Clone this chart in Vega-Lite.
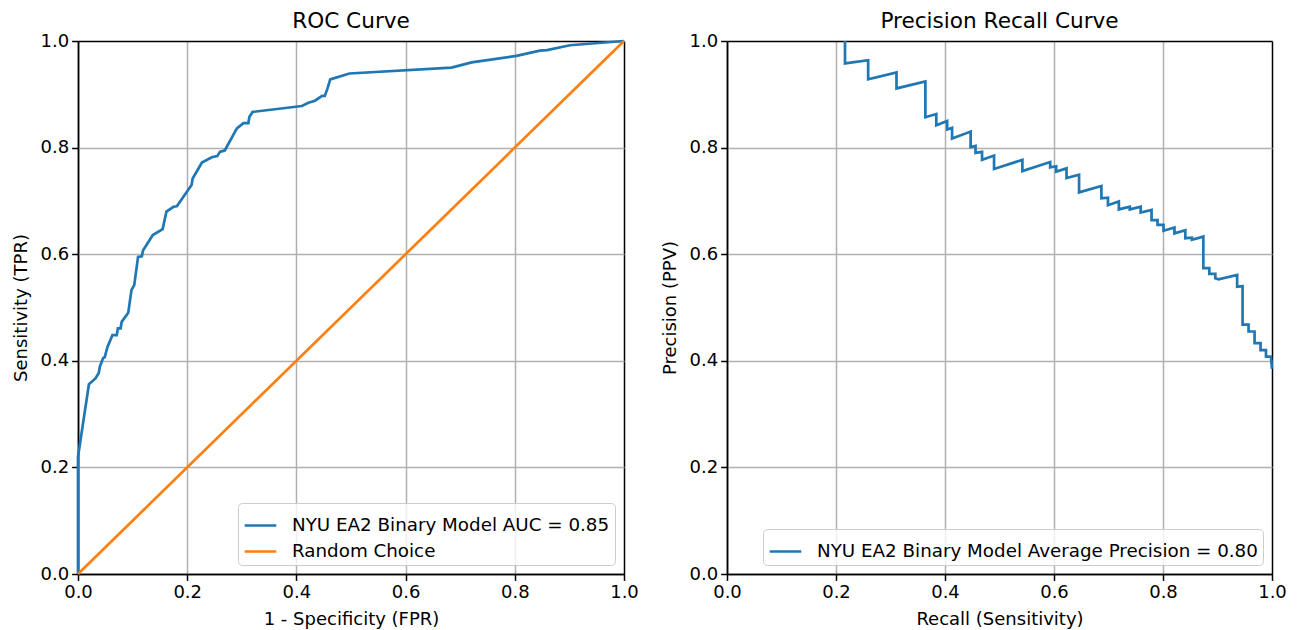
{
  "$schema": "https://vega.github.io/schema/vega-lite/v6.json",
  "padding": {"left": 12, "top": 11, "right": 5, "bottom": 0},
  "background": "white",
  "config": {
    "font": "DejaVu Sans",
    "view": {"stroke": null},
    "axis": {
      "labelFontSize": 18, "titleFontSize": 18, "titleFontWeight": "normal",
      "labelColor": "black", "titleColor": "black", "tickColor": "black",
      "tickSize": 6.4, "tickWidth": 1.5, "labelPadding": 3, "titlePadding": 9,
      "domainColor": "black", "domainWidth": 1.5, "labelFlush": false
    },
    "title": {"fontSize": 21.6, "fontWeight": "normal", "color": "black", "offset": -1, "anchor": "middle", "frame": "group"},
    "legend": {
      "title": null, "orient": "bottom-right", "offset": 9,
      "fillColor": "rgba(255,255,255,0.8)", "strokeColor": "#cccccc", "cornerRadius": 4,
      "padding": 5, "labelFontSize": 18.3, "labelColor": "black", "symbolType": "stroke",
      "symbolStrokeWidth": 2.7, "symbolSize": 1000, "labelOffset": 14, "rowPadding": 0, "labelLimit": 0
    }
  },
  "datasets": {
    "roc": [
      {"i": 0, "fpr": 0, "tpr": 0, "series": "NYU EA2 Binary Model AUC = 0.85"},
      {"i": 1, "fpr": 0, "tpr": 0.22, "series": "NYU EA2 Binary Model AUC = 0.85"},
      {"i": 2, "fpr": 0.02, "tpr": 0.356, "series": "NYU EA2 Binary Model AUC = 0.85"},
      {"i": 3, "fpr": 0.032, "tpr": 0.367, "series": "NYU EA2 Binary Model AUC = 0.85"},
      {"i": 4, "fpr": 0.038, "tpr": 0.377, "series": "NYU EA2 Binary Model AUC = 0.85"},
      {"i": 5, "fpr": 0.04, "tpr": 0.389, "series": "NYU EA2 Binary Model AUC = 0.85"},
      {"i": 6, "fpr": 0.046, "tpr": 0.405, "series": "NYU EA2 Binary Model AUC = 0.85"},
      {"i": 7, "fpr": 0.049, "tpr": 0.407, "series": "NYU EA2 Binary Model AUC = 0.85"},
      {"i": 8, "fpr": 0.054, "tpr": 0.426, "series": "NYU EA2 Binary Model AUC = 0.85"},
      {"i": 9, "fpr": 0.063, "tpr": 0.448, "series": "NYU EA2 Binary Model AUC = 0.85"},
      {"i": 10, "fpr": 0.071, "tpr": 0.448, "series": "NYU EA2 Binary Model AUC = 0.85"},
      {"i": 11, "fpr": 0.073, "tpr": 0.461, "series": "NYU EA2 Binary Model AUC = 0.85"},
      {"i": 12, "fpr": 0.078, "tpr": 0.461, "series": "NYU EA2 Binary Model AUC = 0.85"},
      {"i": 13, "fpr": 0.08, "tpr": 0.473, "series": "NYU EA2 Binary Model AUC = 0.85"},
      {"i": 14, "fpr": 0.092, "tpr": 0.49, "series": "NYU EA2 Binary Model AUC = 0.85"},
      {"i": 15, "fpr": 0.098, "tpr": 0.533, "series": "NYU EA2 Binary Model AUC = 0.85"},
      {"i": 16, "fpr": 0.103, "tpr": 0.542, "series": "NYU EA2 Binary Model AUC = 0.85"},
      {"i": 17, "fpr": 0.11, "tpr": 0.595, "series": "NYU EA2 Binary Model AUC = 0.85"},
      {"i": 18, "fpr": 0.117, "tpr": 0.596, "series": "NYU EA2 Binary Model AUC = 0.85"},
      {"i": 19, "fpr": 0.119, "tpr": 0.607, "series": "NYU EA2 Binary Model AUC = 0.85"},
      {"i": 20, "fpr": 0.137, "tpr": 0.636, "series": "NYU EA2 Binary Model AUC = 0.85"},
      {"i": 21, "fpr": 0.155, "tpr": 0.647, "series": "NYU EA2 Binary Model AUC = 0.85"},
      {"i": 22, "fpr": 0.162, "tpr": 0.68, "series": "NYU EA2 Binary Model AUC = 0.85"},
      {"i": 23, "fpr": 0.175, "tpr": 0.689, "series": "NYU EA2 Binary Model AUC = 0.85"},
      {"i": 24, "fpr": 0.181, "tpr": 0.69, "series": "NYU EA2 Binary Model AUC = 0.85"},
      {"i": 25, "fpr": 0.208, "tpr": 0.73, "series": "NYU EA2 Binary Model AUC = 0.85"},
      {"i": 26, "fpr": 0.21, "tpr": 0.742, "series": "NYU EA2 Binary Model AUC = 0.85"},
      {"i": 27, "fpr": 0.227, "tpr": 0.772, "series": "NYU EA2 Binary Model AUC = 0.85"},
      {"i": 28, "fpr": 0.245, "tpr": 0.782, "series": "NYU EA2 Binary Model AUC = 0.85"},
      {"i": 29, "fpr": 0.255, "tpr": 0.784, "series": "NYU EA2 Binary Model AUC = 0.85"},
      {"i": 30, "fpr": 0.26, "tpr": 0.792, "series": "NYU EA2 Binary Model AUC = 0.85"},
      {"i": 31, "fpr": 0.269, "tpr": 0.795, "series": "NYU EA2 Binary Model AUC = 0.85"},
      {"i": 32, "fpr": 0.291, "tpr": 0.836, "series": "NYU EA2 Binary Model AUC = 0.85"},
      {"i": 33, "fpr": 0.303, "tpr": 0.846, "series": "NYU EA2 Binary Model AUC = 0.85"},
      {"i": 34, "fpr": 0.312, "tpr": 0.846, "series": "NYU EA2 Binary Model AUC = 0.85"},
      {"i": 35, "fpr": 0.314, "tpr": 0.858, "series": "NYU EA2 Binary Model AUC = 0.85"},
      {"i": 36, "fpr": 0.32, "tpr": 0.867, "series": "NYU EA2 Binary Model AUC = 0.85"},
      {"i": 37, "fpr": 0.41, "tpr": 0.878, "series": "NYU EA2 Binary Model AUC = 0.85"},
      {"i": 38, "fpr": 0.422, "tpr": 0.884, "series": "NYU EA2 Binary Model AUC = 0.85"},
      {"i": 39, "fpr": 0.434, "tpr": 0.888, "series": "NYU EA2 Binary Model AUC = 0.85"},
      {"i": 40, "fpr": 0.447, "tpr": 0.897, "series": "NYU EA2 Binary Model AUC = 0.85"},
      {"i": 41, "fpr": 0.452, "tpr": 0.897, "series": "NYU EA2 Binary Model AUC = 0.85"},
      {"i": 42, "fpr": 0.457, "tpr": 0.911, "series": "NYU EA2 Binary Model AUC = 0.85"},
      {"i": 43, "fpr": 0.462, "tpr": 0.928, "series": "NYU EA2 Binary Model AUC = 0.85"},
      {"i": 44, "fpr": 0.497, "tpr": 0.939, "series": "NYU EA2 Binary Model AUC = 0.85"},
      {"i": 45, "fpr": 0.684, "tpr": 0.95, "series": "NYU EA2 Binary Model AUC = 0.85"},
      {"i": 46, "fpr": 0.721, "tpr": 0.96, "series": "NYU EA2 Binary Model AUC = 0.85"},
      {"i": 47, "fpr": 0.803, "tpr": 0.972, "series": "NYU EA2 Binary Model AUC = 0.85"},
      {"i": 48, "fpr": 0.846, "tpr": 0.982, "series": "NYU EA2 Binary Model AUC = 0.85"},
      {"i": 49, "fpr": 0.859, "tpr": 0.983, "series": "NYU EA2 Binary Model AUC = 0.85"},
      {"i": 50, "fpr": 0.901, "tpr": 0.992, "series": "NYU EA2 Binary Model AUC = 0.85"},
      {"i": 51, "fpr": 1, "tpr": 1, "series": "NYU EA2 Binary Model AUC = 0.85"},
      {"i": 0, "fpr": 0, "tpr": 0, "series": "Random Choice"},
      {"i": 1, "fpr": 1, "tpr": 1, "series": "Random Choice"}
    ],
    "pr": [
      {"i": 0, "recall": 0.2165, "precision": 1.0},
      {"i": 1, "recall": 0.2165, "precision": 0.958},
      {"i": 2, "recall": 0.259, "precision": 0.964},
      {"i": 3, "recall": 0.259, "precision": 0.928},
      {"i": 4, "recall": 0.311, "precision": 0.941},
      {"i": 5, "recall": 0.311, "precision": 0.911},
      {"i": 6, "recall": 0.364, "precision": 0.924},
      {"i": 7, "recall": 0.364, "precision": 0.857},
      {"i": 8, "recall": 0.384, "precision": 0.863},
      {"i": 9, "recall": 0.384, "precision": 0.842},
      {"i": 10, "recall": 0.404, "precision": 0.85},
      {"i": 11, "recall": 0.404, "precision": 0.834},
      {"i": 12, "recall": 0.413, "precision": 0.837},
      {"i": 13, "recall": 0.413, "precision": 0.817},
      {"i": 14, "recall": 0.447, "precision": 0.83},
      {"i": 15, "recall": 0.447, "precision": 0.801},
      {"i": 16, "recall": 0.456, "precision": 0.803},
      {"i": 17, "recall": 0.456, "precision": 0.79},
      {"i": 18, "recall": 0.468, "precision": 0.792},
      {"i": 19, "recall": 0.468, "precision": 0.777},
      {"i": 20, "recall": 0.49, "precision": 0.785},
      {"i": 21, "recall": 0.49, "precision": 0.76},
      {"i": 22, "recall": 0.542, "precision": 0.777},
      {"i": 23, "recall": 0.542, "precision": 0.756},
      {"i": 24, "recall": 0.593, "precision": 0.773},
      {"i": 25, "recall": 0.593, "precision": 0.763},
      {"i": 26, "recall": 0.604, "precision": 0.765},
      {"i": 27, "recall": 0.604, "precision": 0.755},
      {"i": 28, "recall": 0.623, "precision": 0.761},
      {"i": 29, "recall": 0.623, "precision": 0.743},
      {"i": 30, "recall": 0.646, "precision": 0.749},
      {"i": 31, "recall": 0.646, "precision": 0.716},
      {"i": 32, "recall": 0.687, "precision": 0.728},
      {"i": 33, "recall": 0.687, "precision": 0.705},
      {"i": 34, "recall": 0.699, "precision": 0.706},
      {"i": 35, "recall": 0.699, "precision": 0.692},
      {"i": 36, "recall": 0.719, "precision": 0.699},
      {"i": 37, "recall": 0.719, "precision": 0.684},
      {"i": 38, "recall": 0.739, "precision": 0.689},
      {"i": 39, "recall": 0.739, "precision": 0.684},
      {"i": 40, "recall": 0.759, "precision": 0.689},
      {"i": 41, "recall": 0.759, "precision": 0.678},
      {"i": 42, "recall": 0.779, "precision": 0.683},
      {"i": 43, "recall": 0.779, "precision": 0.664},
      {"i": 44, "recall": 0.79, "precision": 0.664},
      {"i": 45, "recall": 0.79, "precision": 0.655},
      {"i": 46, "recall": 0.801, "precision": 0.655},
      {"i": 47, "recall": 0.801, "precision": 0.644},
      {"i": 48, "recall": 0.821, "precision": 0.65},
      {"i": 49, "recall": 0.821, "precision": 0.639},
      {"i": 50, "recall": 0.841, "precision": 0.645},
      {"i": 51, "recall": 0.841, "precision": 0.63},
      {"i": 52, "recall": 0.853, "precision": 0.631},
      {"i": 53, "recall": 0.853, "precision": 0.627},
      {"i": 54, "recall": 0.874, "precision": 0.633},
      {"i": 55, "recall": 0.874, "precision": 0.574},
      {"i": 56, "recall": 0.885, "precision": 0.574},
      {"i": 57, "recall": 0.885, "precision": 0.563},
      {"i": 58, "recall": 0.896, "precision": 0.563},
      {"i": 59, "recall": 0.896, "precision": 0.555},
      {"i": 60, "recall": 0.902, "precision": 0.553},
      {"i": 61, "recall": 0.936, "precision": 0.561},
      {"i": 62, "recall": 0.936, "precision": 0.539},
      {"i": 63, "recall": 0.946, "precision": 0.54},
      {"i": 64, "recall": 0.946, "precision": 0.468},
      {"i": 65, "recall": 0.957, "precision": 0.468},
      {"i": 66, "recall": 0.957, "precision": 0.455},
      {"i": 67, "recall": 0.968, "precision": 0.455},
      {"i": 68, "recall": 0.968, "precision": 0.433},
      {"i": 69, "recall": 0.979, "precision": 0.433},
      {"i": 70, "recall": 0.979, "precision": 0.42},
      {"i": 71, "recall": 0.989, "precision": 0.42},
      {"i": 72, "recall": 0.989, "precision": 0.408},
      {"i": 73, "recall": 0.998, "precision": 0.408},
      {"i": 74, "recall": 1.0, "precision": 0.385}
    ]
  },
  "hconcat": [
    {
      "title": "ROC Curve",
      "width": 546,
      "height": 533,
      "data": {"name": "roc"},
      "mark": {"type": "line", "strokeWidth": 2.7},
      "encoding": {
        "x": {
          "field": "fpr", "type": "quantitative",
          "scale": {"domain": [0, 1], "nice": false, "zero": false},
          "axis": {
            "title": "1 - Specificity (FPR)", "values": [0, 0.2, 0.4, 0.6, 0.8, 1], "format": ".1f",
            "grid": true, "gridWidth": 1.5,
            "gridColor": {"condition": {"test": "datum.value === 0 || datum.value === 1", "value": "black"}, "value": "#b0b0b0"}
          }
        },
        "y": {
          "field": "tpr", "type": "quantitative",
          "scale": {"domain": [0, 1], "nice": false, "zero": false},
          "axis": {
            "title": "Sensitivity (TPR)", "values": [0, 0.2, 0.4, 0.6, 0.8, 1], "format": ".1f",
            "grid": true, "gridWidth": 1.5,
            "gridColor": {"condition": {"test": "datum.value === 0 || datum.value === 1", "value": "black"}, "value": "#b0b0b0"}
          }
        },
        "color": {
          "field": "series", "type": "nominal",
          "scale": {"domain": ["NYU EA2 Binary Model AUC = 0.85", "Random Choice"], "range": ["#1f77b4", "#ff7f0e"]}
        },
        "order": {"field": "i", "type": "quantitative"}
      }
    },
    {
      "title": "Precision Recall Curve",
      "width": 545,
      "height": 533,
      "data": {"name": "pr"},
      "transform": [{"calculate": "'NYU EA2 Binary Model Average Precision = 0.80'", "as": "series"}],
      "mark": {"type": "line", "strokeWidth": 2.7},
      "encoding": {
        "x": {
          "field": "recall", "type": "quantitative",
          "scale": {"domain": [0, 1], "nice": false, "zero": false},
          "axis": {
            "title": "Recall (Sensitivity)", "values": [0, 0.2, 0.4, 0.6, 0.8, 1], "format": ".1f",
            "grid": true, "gridWidth": 1.5,
            "gridColor": {"condition": {"test": "datum.value === 0 || datum.value === 1", "value": "black"}, "value": "#b0b0b0"}
          }
        },
        "y": {
          "field": "precision", "type": "quantitative",
          "scale": {"domain": [0, 1], "nice": false, "zero": false},
          "axis": {
            "title": "Precision (PPV)", "values": [0, 0.2, 0.4, 0.6, 0.8, 1], "format": ".1f",
            "grid": true, "gridWidth": 1.5,
            "gridColor": {"condition": {"test": "datum.value === 0 || datum.value === 1", "value": "black"}, "value": "#b0b0b0"}
          }
        },
        "color": {
          "field": "series", "type": "nominal",
          "scale": {"domain": ["NYU EA2 Binary Model Average Precision = 0.80"], "range": ["#1f77b4"]}
        },
        "order": {"field": "i", "type": "quantitative"}
      }
    }
  ],
  "spacing": 22,
  "resolve": {"scale": {"color": "independent"}, "legend": {"color": "independent"}}
}
